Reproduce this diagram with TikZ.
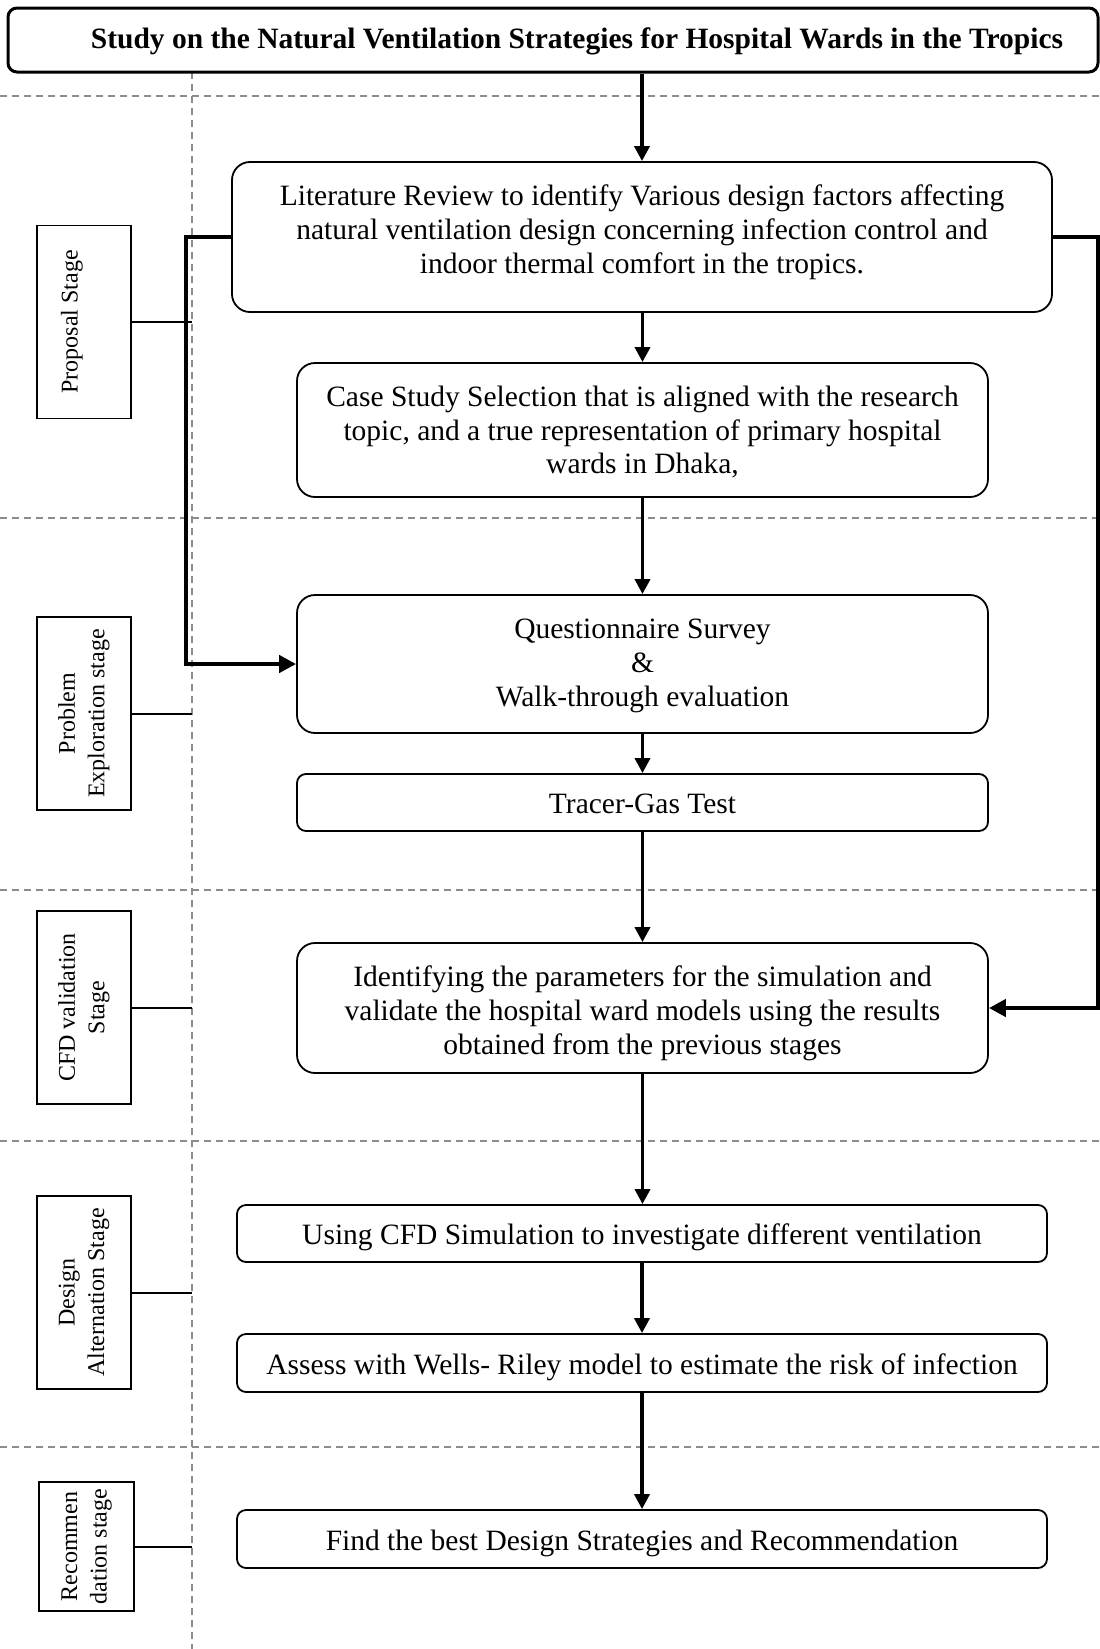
\documentclass[tikz,border=0pt]{standalone}
\usepackage{fontspec}
\setmainfont{Liberation Serif}
\usetikzlibrary{arrows.meta}
\begin{document}
\begin{tikzpicture}[x=1pt,y=-1pt,
  mainbox/.style={draw, line width=1.8pt, rounded corners=18pt, align=center, inner sep=0pt,
    font=\fontsize{29.5}{33.7}\selectfont},
  flatbox/.style={draw, line width=1.8pt, rounded corners=9pt, align=center, inner sep=0pt,
    text height=28.4pt, text depth=6pt, font=\fontsize{29.5}{33.7}\selectfont},
  stagebox/.style={draw, line width=1.8pt, rotate=90, align=center, inner sep=0pt,
    minimum width=193pt, minimum height=94pt, font=\fontsize{24}{29.5}\selectfont},
  flow/.style={line width=3.5pt, -{Triangle[length=15pt,width=15pt]}},
  bypass/.style={line width=4.5pt, -{Triangle[length=17pt,width=17pt]}},
  thin/.style={line width=2pt},
  sep/.style={draw=gray!90, line width=1.6pt, dash pattern=on 7pt off 5pt}
]
\useasboundingbox (0,0) rectangle (1100,1649);

% separators
\draw[sep] (0,96) -- (1100,96);
\draw[sep] (0,518) -- (1100,518);
\draw[sep] (0,890) -- (1100,890);
\draw[sep] (0,1141) -- (1100,1141);
\draw[sep] (0,1447) -- (1100,1447);
\coordinate (vtop) at (192,72);
\coordinate (vbot) at (192,1649);
\draw[sep] (vtop) -- (vbot);

% title
\node[draw, line width=3pt, rounded corners=9pt, minimum width=1090pt, minimum height=64pt, inner sep=0pt,
  text height=24pt, text depth=6.5pt,
  font=\fontsize{29.5}{32}\selectfont\bfseries] (title) at (553,40)
  {\hspace*{48pt}Study on the Natural Ventilation Strategies for Hospital Wards in the Tropics};

% main boxes
\node[mainbox, minimum width=820pt, minimum height=150pt, text height=78pt, text depth=6pt] (lit) at (642,237)
  {Literature Review to identify Various design factors affecting\\natural ventilation design concerning infection control and\\indoor thermal comfort in the tropics.};
\node[mainbox, minimum width=691pt, minimum height=134pt, text height=93.8pt, text depth=6pt] (case) at (642.5,430)
  {Case Study Selection that is aligned with the research\\topic, and a true representation of primary hospital\\wards in Dhaka,};
\node[mainbox, minimum width=691pt, minimum height=138pt, text height=90.6pt, text depth=6pt] (quest) at (642.5,664)
  {Questionnaire Survey\\\&\\Walk-through evaluation};
\node[flatbox, minimum width=691pt, minimum height=57pt] (tracer) at (642.5,802.5)
  {Tracer-Gas Test};
\node[mainbox, minimum width=691pt, minimum height=130pt, text height=98.6pt, text depth=6pt] (ident) at (642.5,1008)
  {Identifying the parameters for the simulation and\\validate the hospital ward models using the results\\obtained from the previous stages};
\node[flatbox, minimum width=810pt, minimum height=57pt] (using) at (642,1233.5)
  {Using CFD Simulation to investigate different ventilation};
\node[flatbox, minimum width=810pt, minimum height=58pt] (assess) at (642,1363)
  {Assess with Wells- Riley model to estimate the risk of infection};
\node[flatbox, minimum width=810pt, minimum height=58pt] (find) at (642,1539)
  {Find the best Design Strategies and Recommendation};

% stage boxes
\node[stagebox] (s1) at (84,322) {Proposal Stage\\\mbox{}};
\node[stagebox] (s2) at (84,713.5) {Problem\\Exploration stage};
\node[stagebox] (s3) at (84,1007.5) {CFD validation\\Stage};
\node[stagebox] (s4) at (84,1292.5) {Design\\Alternation Stage};
\node[stagebox, minimum width=129pt, minimum height=95pt] (s5) at (86.5,1546.5) {Recommen\\dation stage};

\draw[thin] (s1.south) -- (s1.south -| vtop);
\draw[thin] (s2.south) -- (s2.south -| vtop);
\draw[thin] (s3.south) -- (s3.south -| vtop);
\draw[thin] (s4.south) -- (s4.south -| vtop);
\draw[thin] (s5.south) -- (s5.south -| vtop);

% flow
\draw[flow] (lit.north |- title.south) -- (lit.north);
\draw[flow] (lit.south -| case.north) -- (case.north);
\draw[flow] (case) -- (quest);
\draw[flow] (quest) -- (tracer);
\draw[flow] (tracer) -- (ident);
\draw[flow] (ident.south) -- (ident.south |- using.north);
\draw[flow] (using.south -| assess.north) -- (assess.north);
\draw[flow] (assess.south -| find.north) -- (find.north);

\coordinate (lb) at (186,237);
\coordinate (rb) at (1098,237);
\draw[bypass] (lit.west) -- (lb) |- (quest.west);
\draw[bypass] (lit.east) -- (rb) |- (ident.east);
\end{tikzpicture}
\end{document}
